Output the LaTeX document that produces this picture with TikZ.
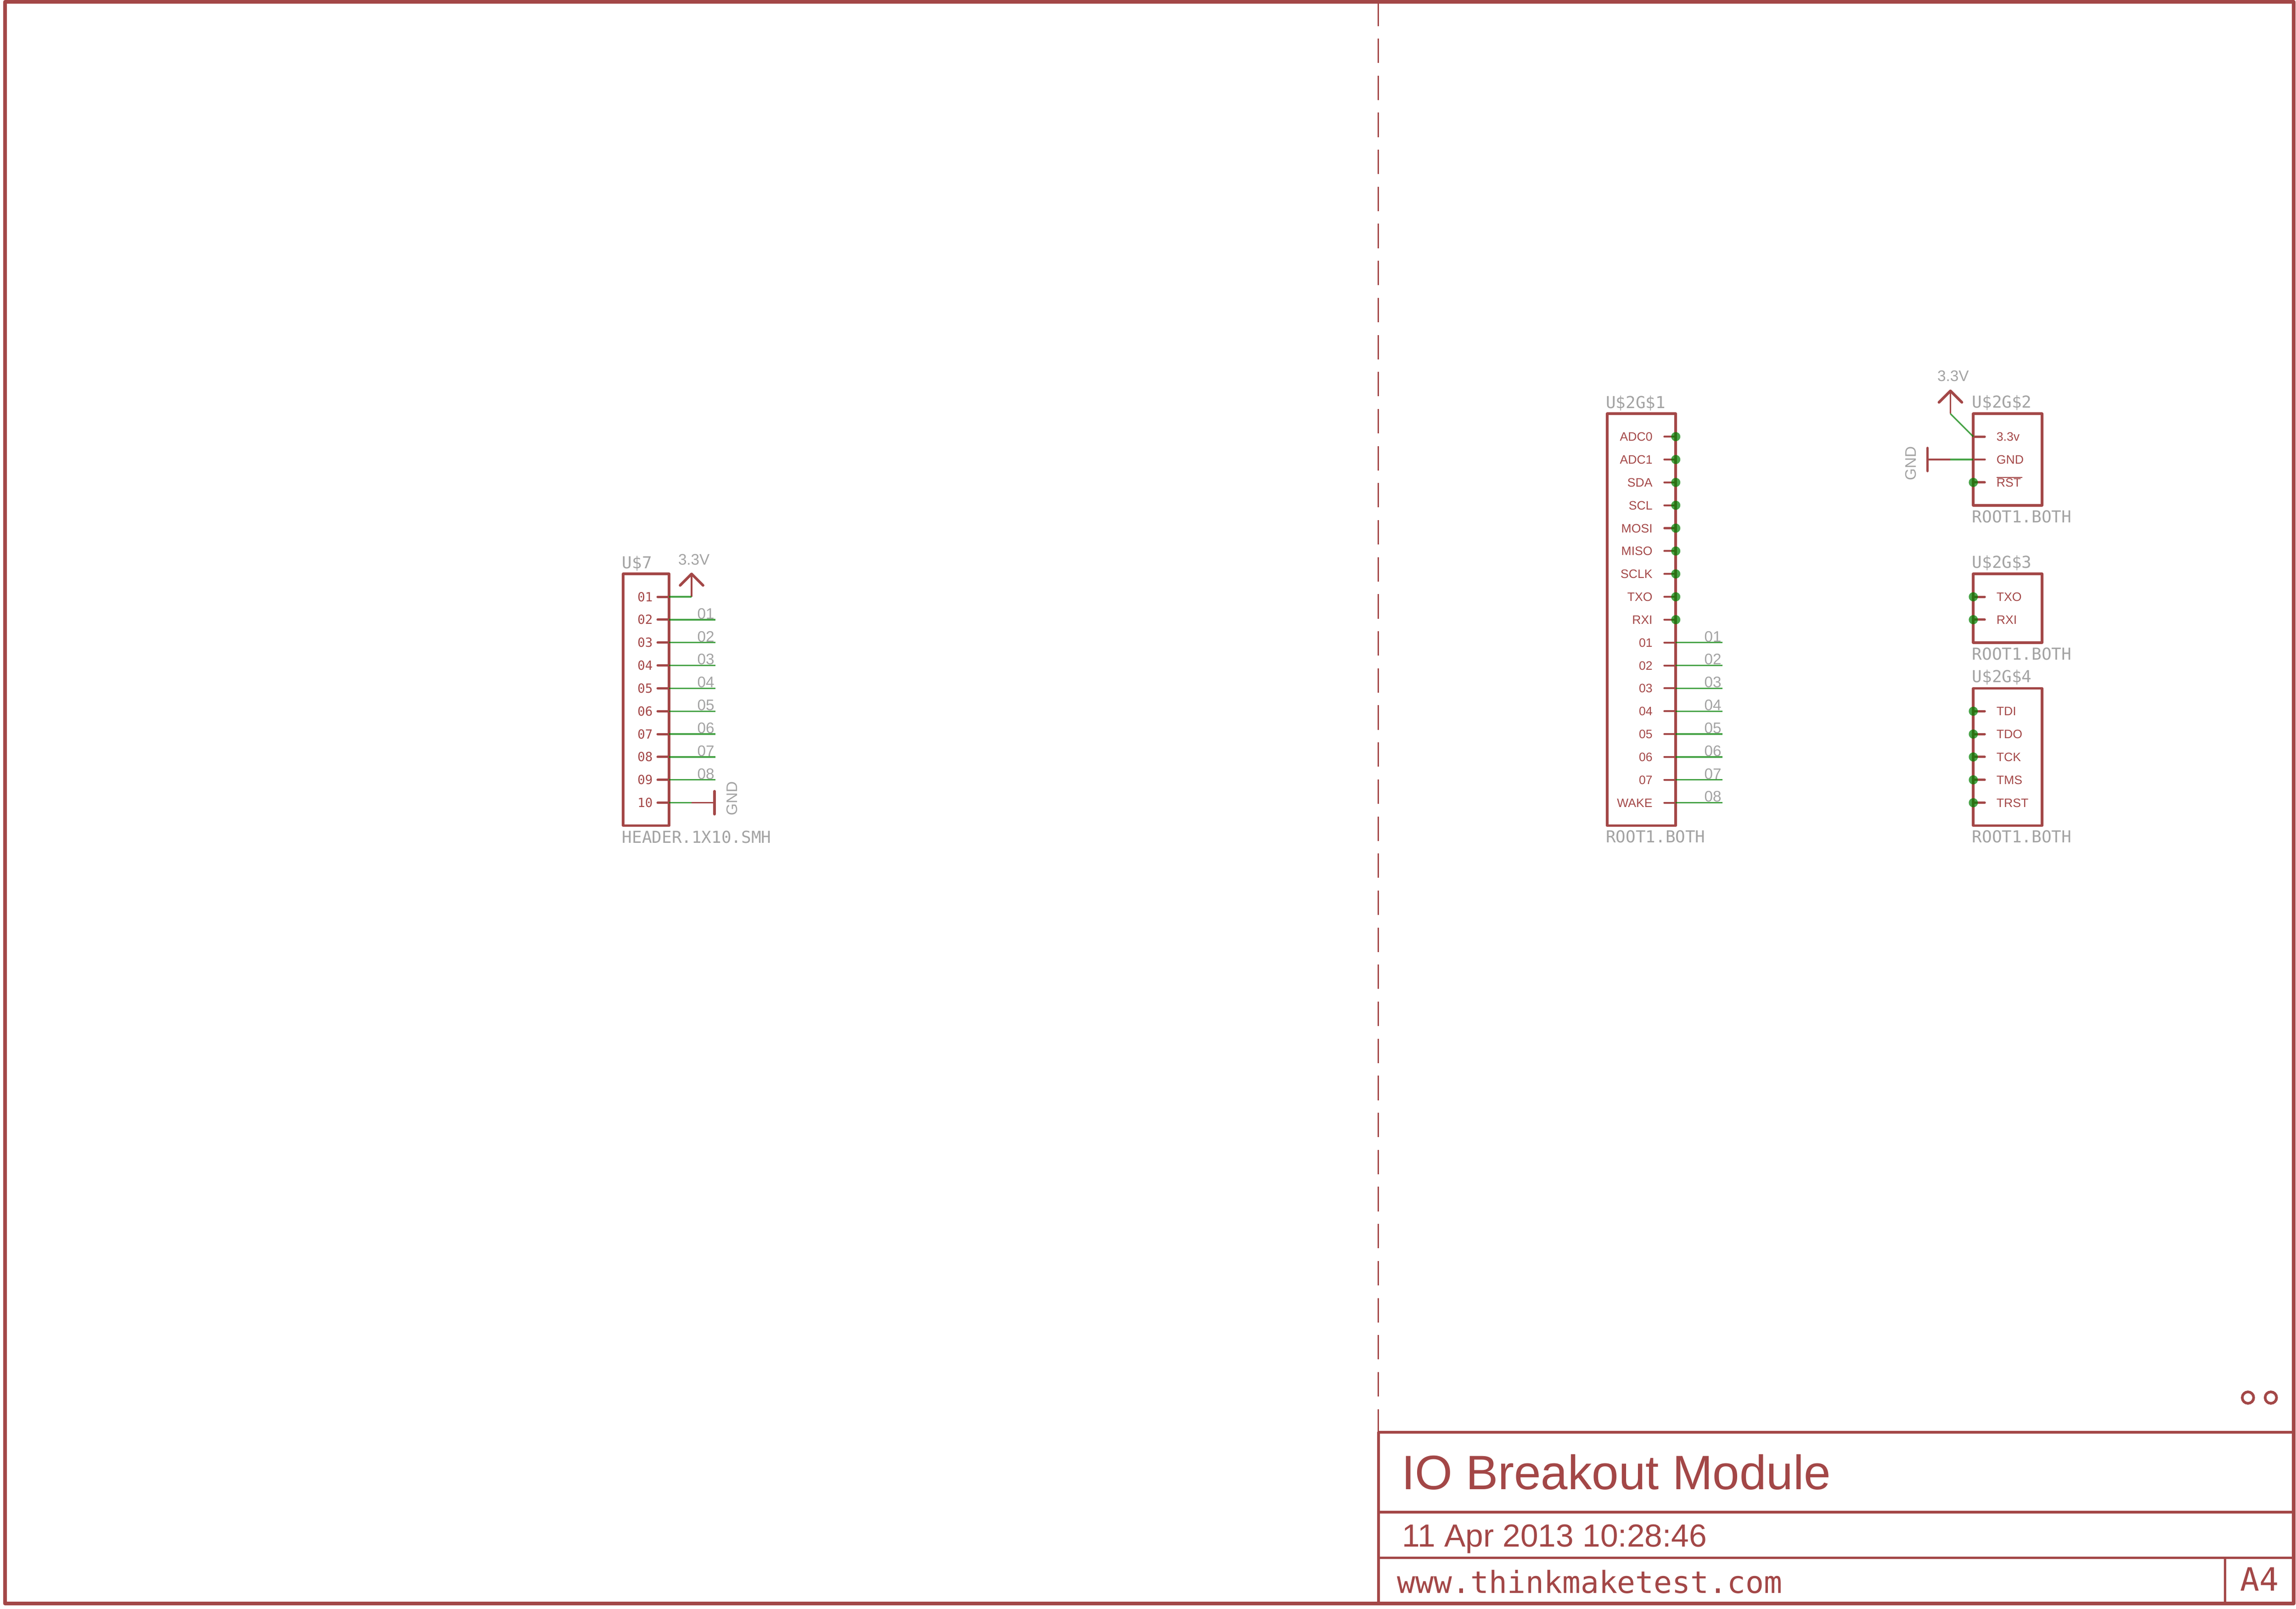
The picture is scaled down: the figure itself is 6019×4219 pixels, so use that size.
\documentclass[tikz,border=0pt]{standalone}
\usepackage{fontspec}
\setmainfont{Liberation Sans}
\setmonofont{DejaVu Sans Mono}
\definecolor{symcol}{RGB}{163,71,71}
\definecolor{netcol}{RGB}{0,128,0}
\definecolor{namecol}{RGB}{163,163,163}
\tikzset{
  sym/.style={draw=symcol, line width=0.07cm, line join=round, line cap=round},
  symthin/.style={draw=symcol, line width=0.04cm, line cap=round},
  stub/.style={draw=symcol, line width=0.06cm, line cap=round},
  wire/.style={draw=netcol, draw opacity=0.72, line width=0.04cm},
  junction/.style={fill=netcol, fill opacity=0.72},
  txt/.style={inner sep=0pt, outer sep=0pt, anchor=base west},
  pinl/.style={txt, text=symcol, font=\fontsize{9.1}{9.1}\selectfont},
  pinr/.style={pinl, anchor=base east},
  pinm/.style={txt, anchor=base east, text=symcol, font=\fontsize{9.4}{9.4}\ttfamily},
  partname/.style={txt, text=namecol, font=\fontsize{12.3}{12.3}\ttfamily},
  netname/.style={txt, text=namecol, font=\fontsize{11.38}{11.38}\selectfont},
}
\begin{document}
\begin{tikzpicture}[x=0.01cm,y=-0.01cm]
\useasboundingbox (0,0) rectangle (6019,4219);

% sheet frame
\draw[symcol, line width=0.1cm, line join=round] (13,5) rectangle (6013,4205);
\draw[symthin, line cap=butt, dash pattern=on 0.64cm off 0.3308cm] (3613,4) -- (3613,3755);
\draw[sym, line cap=butt] (3613.5,3755) -- (3613.5,4205);
\draw[sym, line cap=butt] (3613,3755.5) -- (6013,3755.5);
\draw[sym, line cap=butt] (3613,3965) -- (6013,3965);
\draw[sym, line cap=butt] (3613,4085) -- (6013,4085);
\draw[sym, line cap=butt] (5833,4085) -- (5833,4205);
\draw[sym] (5893,3665) circle (15);
\draw[sym] (5953,3665) circle (15);
\node[txt, text=symcol, font=\fontsize{36}{36}\selectfont] (title) at (3674,3906) {IO Breakout Module};
\node[txt, text=symcol, font=\fontsize{23.8}{23.8}\selectfont] (date) at (3676,4056) {11 Apr 2013 10:28:46};
\node[txt, text=symcol, font=\fontsize{22.7}{22.7}\ttfamily] (web) at (3663,4178) {www.thinkmaketest.com};
\node[txt, text=symcol, font=\fontsize{23.9}{23.9}\ttfamily] (size) at (5873,4172) {A4};

% header U$7
\draw[sym] (1634,1505) rectangle (1754,2165);
\node[partname] (u7name) at (1631,1491) {U\$7};
\node[partname] (u7value) at (1631,2211) {HEADER.1X10.SMH};
\foreach \lab [count=\i from 0] in {01,02,03,04,05,06,07,08,09,10} {
  \coordinate (u7pin\i) at (1754,1565+60*\i);
  \draw[stub] (1724,1565+60*\i) -- (u7pin\i);
  \node[pinm] (u7lab\i) at (1711,1577+60*\i) {\lab};
}
\foreach \i in {1,...,8} {
  \coordinate (u7end\i) at (1875,1565+60*\i);
  \draw[wire] (u7pin\i) -- (u7end\i);
  \node[netname] (u7net\i) at (1828,1563+60*\i) {0\i};
}
% 3.3V and GND on the header
\coordinate (u7sup) at (1813,1565);
\coordinate (u7gnd) at (1813,2105);
\coordinate (u7bar) at (1873,2105);
\draw[symthin, line cap=butt] (u7sup) -- (1813,1505);
\draw[sym] (1783,1535) -- (1813,1505) -- (1843,1535);
\draw[symthin, line cap=butt] (u7gnd) -- (u7bar);
\draw[sym] (1873,2075) -- (1873,2135);
\draw[wire] (u7pin0) -- (u7sup);
\draw[wire] (u7pin9) -- (u7gnd);
\node[netname] (u7vcc) at (1778,1481) {3.3V};
\node[netname, rotate=90] (u7gndlab) at (1933,2138) {GND};

% U$2G$1
\draw[sym] (4213,1085) rectangle (4393,2165);
\node[partname] (g1name) at (4210,1071) {U\$2G\$1};
\node[partname] (g1value) at (4210,2210) {ROOT1.BOTH};
\foreach \lab [count=\i from 0] in {ADC0,ADC1,SDA,SCL,MOSI,MISO,SCLK,TXO,RXI,01,02,03,04,05,06,07,WAKE} {
  \coordinate (g1pin\i) at (4393,1145+60*\i);
  \draw[stub, line width=0.05cm] (4363,1145+60*\i) -- (g1pin\i);
  \node[pinr] (g1lab\i) at (4332,1156.5+60*\i) {\lab};
}
\foreach \i in {0,...,8} {\fill[junction] (g1pin\i) circle (12);}
\foreach \i [count=\k from 9] in {1,...,8} {
  \coordinate (g1end\i) at (4515,1145+60*\k);
  \draw[wire] (g1pin\k) -- (g1end\i);
  \node[netname] (g1net\i) at (4468,1143+60*\k) {0\i};
}

% U$2G$2
\draw[sym] (5173,1085) rectangle (5353,1325);
\node[partname] (g2name) at (5170,1070) {U\$2G\$2};
\node[partname] (g2value) at (5170,1370) {ROOT1.BOTH};
\foreach \lab [count=\i from 0] in {3.3v,GND,RST} {
  \coordinate (g2pin\i) at (5173,1145+60*\i);
  \draw[stub] (g2pin\i) -- (5203,1145+60*\i);
  \node[pinl] (g2lab\i) at (5234,1156.5+60*\i) {\lab};
}
\draw[symcol, line width=0.03cm] (g2lab2.north west)+(0,-2.5) -- ++(67,-2.5);
\fill[junction] (g2pin2) circle (12);
\coordinate (g2sup) at (5113,1085);
\coordinate (g2gnd) at (5113,1205);
\coordinate (g2bar) at (5053,1205);
\draw[symthin, line cap=butt] (g2sup) -- (5113,1025);
\draw[sym] (5083,1055) -- (5113,1025) -- (5143,1055);
\draw[symthin, line cap=butt] (g2gnd) -- (g2bar);
\draw[sym] (5053,1175) -- (5053,1235);
\draw[wire] (g2pin0) -- (g2sup);
\draw[wire] (g2pin1) -- (g2gnd);
\node[netname] (g2vcc) at (5079,1000) {3.3V};
\node[netname, rotate=90] (g2gndlab) at (5023,1260) {GND};

% U$2G$3
\draw[sym] (5173,1505) rectangle (5353,1685);
\node[partname] (g3name) at (5170,1490) {U\$2G\$3};
\node[partname] (g3value) at (5170,1730) {ROOT1.BOTH};
\foreach \lab [count=\i from 0] in {TXO,RXI} {
  \coordinate (g3pin\i) at (5173,1565+60*\i);
  \draw[stub] (g3pin\i) -- (5203,1565+60*\i);
  \node[pinl] (g3lab\i) at (5234,1576.5+60*\i) {\lab};
  \fill[junction] (g3pin\i) circle (12);
}

% U$2G$4
\draw[sym] (5173,1805) rectangle (5353,2165);
\node[partname] (g4name) at (5170,1790) {U\$2G\$4};
\node[partname] (g4value) at (5170,2210) {ROOT1.BOTH};
\foreach \lab [count=\i from 0] in {TDI,TDO,TCK,TMS,TRST} {
  \coordinate (g4pin\i) at (5173,1865+60*\i);
  \draw[stub] (g4pin\i) -- (5203,1865+60*\i);
  \node[pinl] (g4lab\i) at (5234,1876.5+60*\i) {\lab};
  \fill[junction] (g4pin\i) circle (12);
}
\end{tikzpicture}
\end{document}
